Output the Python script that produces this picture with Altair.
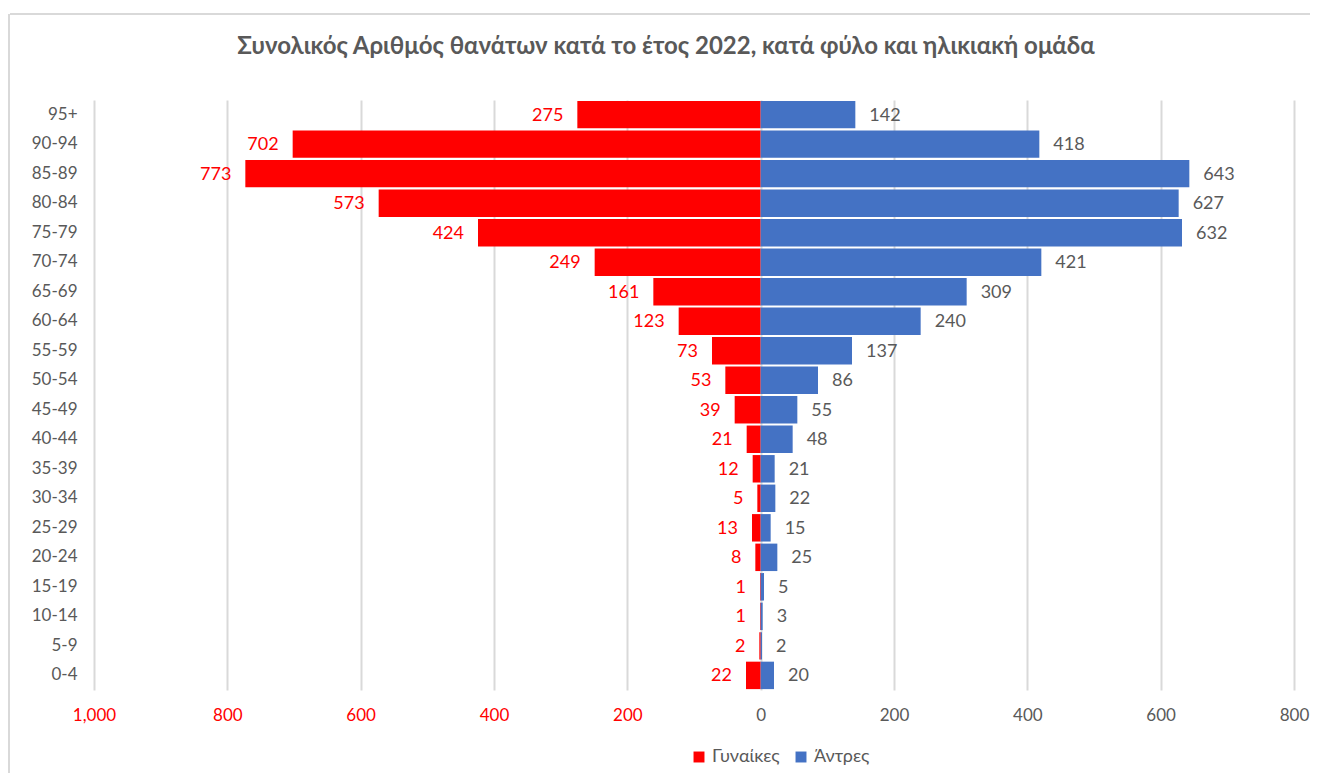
import altair as alt
import pandas as pd

ages = ["0-4", "5-9", "10-14", "15-19", "20-24", "25-29", "30-34", "35-39", "40-44",
        "45-49", "50-54", "55-59", "60-64", "65-69", "70-74", "75-79", "80-84",
        "85-89", "90-94", "95+"]
female = [22, 2, 1, 1, 8, 13, 5, 12, 21, 39, 53, 73, 123, 161, 249, 424, 573, 773, 702, 275]
male = [20, 2, 3, 5, 25, 15, 22, 21, 48, 55, 86, 137, 240, 309, 421, 632, 627, 643, 418, 142]
tick_values = [-1000, -800, -600, -400, -200, 0, 200, 400, 600, 800]

rows = []
for a, f, m in zip(ages, female, male):
    rows.append({"age": a, "sex": "Γυναίκες", "value": -f, "label": str(f)})
    rows.append({"age": a, "sex": "Άντρες", "value": m, "label": str(m)})
df = pd.DataFrame(rows)

order = list(reversed(ages))
FONT = "Lato"
GREY = "#595959"
RED = "#FF0000"
BLUE = "#4472C4"

x_enc = alt.X("value:Q",
              scale=alt.Scale(domain=[-1000, 800], nice=False, zero=False),
              axis=alt.Axis(values=tick_values, title=None, grid=True, gridColor="#d9d9d9",
                            gridWidth=2, ticks=False, domain=False, labelPadding=17,
                            labelFontSize=17, labelFont=FONT, labelFlush=False,
                            labelExpr="format(abs(datum.value), ',')",
                            labelColor={"condition": {"test": "datum.value < 0", "value": RED},
                                        "value": GREY}))
y_enc = alt.Y("age:N", sort=order,
              scale=alt.Scale(paddingInner=0.07, paddingOuter=0.03),
              axis=alt.Axis(title=None, ticks=False, domain=False, labelPadding=17,
                            labelFontSize=17, labelFont=FONT, labelColor=GREY))

base = alt.Chart(df)

bars = base.mark_bar().encode(
    x=x_enc,
    y=y_enc,
    color=alt.Color("sex:N",
                    scale=alt.Scale(domain=["Γυναίκες", "Άντρες"], range=[RED, BLUE]),
                    legend=alt.Legend(title=None, orient="none", direction="horizontal",
                                      legendX=596, legendY=648, symbolType="square",
                                      symbolSize=120, symbolStrokeWidth=0,
                                      labelFontSize=18, labelFont=FONT, labelColor=GREY,
                                      columnPadding=12, labelOffset=4)),
)

txt_f = base.transform_filter(alt.datum.sex == "Γυναίκες").mark_text(
    align="right", baseline="middle", dx=-14, dy=1, fontSize=18, font=FONT, color=RED
).encode(x="value:Q", y=alt.Y("age:N", sort=order), text="label:N")

txt_m = base.transform_filter(alt.datum.sex == "Άντρες").mark_text(
    align="left", baseline="middle", dx=14, dy=1, fontSize=18, font=FONT, color=GREY
).encode(x="value:Q", y=alt.Y("age:N", sort=order), text="label:N")

frame_top = alt.Chart(pd.DataFrame({"k": [0]})).mark_rule(color="#d9d9d9", strokeWidth=2).encode(
    x=alt.value(-84), x2=alt.value(1216), y=alt.value(-86))
frame_left = alt.Chart(pd.DataFrame({"k": [0]})).mark_rule(color="#d9d9d9", strokeWidth=2).encode(
    x=alt.value(-85), y=alt.value(-86), y2=alt.value(690))

chart = alt.layer(bars, txt_f, txt_m, frame_top, frame_left).properties(
    width=1200, height=590,
    title=alt.TitleParams("Συνολικός Αριθμός θανάτων κατά το έτος 2022, κατά φύλο και ηλικιακή ομάδα",
                          font=FONT, fontSize=24, fontWeight="bold", color=GREY,
                          anchor="middle", dx=-28, offset=-46),
    autosize=alt.AutoSizeParams(type="none"),
    padding={"left": 86, "top": 92, "right": 16, "bottom": 83},
).configure_view(stroke=None)

chart.save("out.html", embed_options={"renderer": "svg", "actions": False})
